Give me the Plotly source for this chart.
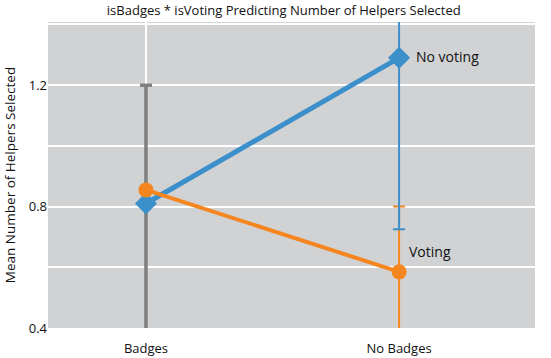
import plotly.graph_objects as go

categories = ["Badges", "No Badges"]
no_voting = [0.81, 1.29]
voting = [0.855, 0.585]
no_voting_err_plus = [0.39, 0.30]
no_voting_err_minus = [0.45, 0.565]
voting_err_plus = [0.345, 0.215]
voting_err_minus = [0.50, 0.25]
y_tick_vals = [0.4, 0.8, 1.2]
y_tick_text = ["0.4", "0.8", "1.2"]

BLUE = "#3b8fca"
ORANGE = "#f5861f"
GRAY = "#7f7f7f"
FONT = "Open Sans"

fig = go.Figure()

series = [
    ("Voting", voting, voting_err_plus, voting_err_minus, ORANGE),
    ("No voting", no_voting, no_voting_err_plus, no_voting_err_minus, BLUE),
]

for name, vals, ep, em, col in series:
    for i, cat in enumerate(categories):
        c = GRAY if cat == "Badges" else col
        fig.add_trace(go.Scatter(
            x=[cat], y=[vals[i]], mode="markers",
            marker=dict(size=0.1, color="rgba(0,0,0,0)"),
            error_y=dict(type="data", symmetric=False, array=[ep[i]], arrayminus=[em[i]],
                         color=c, thickness=3 if cat == "Badges" else 2, width=6),
            showlegend=False, hoverinfo="skip",
        ))

fig.add_trace(go.Scatter(
    x=categories, y=no_voting, mode="lines+markers", name="No voting",
    line=dict(color=BLUE, width=5),
    marker=dict(symbol="diamond", size=17, color=BLUE),
    showlegend=False,
))
fig.add_trace(go.Scatter(
    x=categories, y=voting, mode="lines+markers", name="Voting",
    line=dict(color=ORANGE, width=4),
    marker=dict(symbol="circle", size=15, color=ORANGE),
    showlegend=False,
))

fig.add_annotation(x=categories[1], y=no_voting[1], text="No voting", showarrow=False,
                   xanchor="left", xshift=15, yshift=1, font=dict(family=FONT, size=14, color="#111"))
fig.add_annotation(x=categories[1], y=voting[1], text="Voting", showarrow=False,
                   xanchor="left", xshift=8, yshift=20, font=dict(family=FONT, size=14, color="#111"))

fig.update_layout(
    width=551, height=358,
    margin=dict(l=48, r=16, t=22, b=30),
    paper_bgcolor="white", plot_bgcolor="#d1d2d4",
    font=dict(family=FONT, size=13, color="#111"),
    title=dict(text="isBadges * isVoting Predicting Number of Helpers Selected",
               x=0.515, xanchor="center", y=0.97, yanchor="middle",
               font=dict(family=FONT, size=13, color="#111")),
    xaxis=dict(type="category", range=[-0.387, 1.537], showgrid=True, gridcolor="white",
               gridwidth=1.5, zeroline=False, showline=False, ticks="", automargin=False,
               ticklabelstandoff=11,
               tickfont=dict(family=FONT, size=13)),
    yaxis=dict(range=[0.4, 1.408], tickvals=y_tick_vals, ticktext=y_tick_text,
               showgrid=True, gridcolor="white", gridwidth=2, zeroline=False,
               showline=False, ticks="", automargin=False, tickfont=dict(family=FONT, size=13),
               minor=dict(dtick=0.2, tick0=0.4, showgrid=True, gridcolor="white", gridwidth=2),
               title=dict(text="Mean Number of Helpers Selected", standoff=9,
                          font=dict(family=FONT, size=13.5))),
)

fig.write_html("out.html", config={"displayModeBar": False},
               post_script="document.body.style.margin='0';document.body.style.padding='0';")
